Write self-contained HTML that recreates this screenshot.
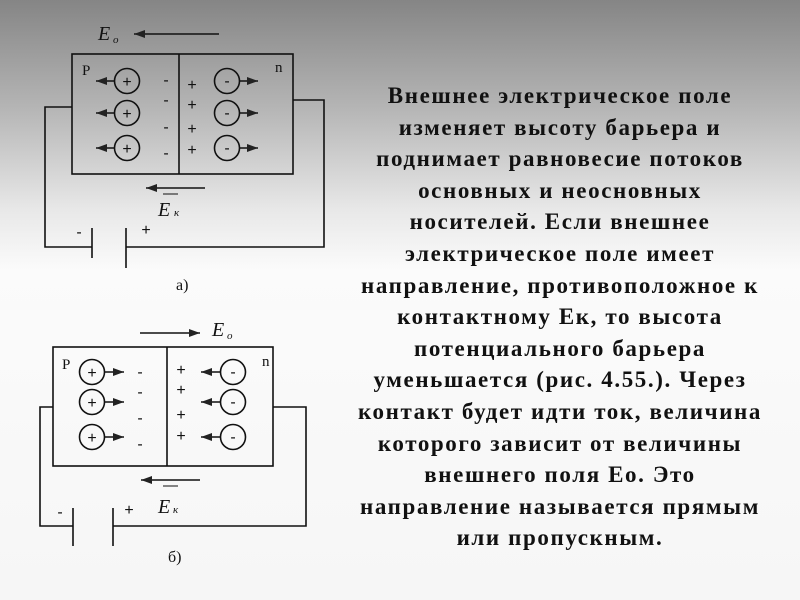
<!DOCTYPE html>
<html><head><meta charset="utf-8"><style>
body{margin:0;width:800px;height:600px;overflow:hidden;background:linear-gradient(to bottom,#858585 0%,#b5b5b5 18%,#e8e8e8 35%,#fbfbfb 45%,#f6f6f6 100%);position:relative;font-family:"Liberation Serif",serif}
#t{position:absolute;left:330px;top:80px;width:460px;text-align:center;font-weight:bold;font-size:23px;letter-spacing:1.6px;line-height:31.6px;color:#111;white-space:nowrap}
svg{position:absolute;left:0;top:0}
</style></head><body>
<svg width="800" height="600" viewBox="0 0 800 600">
<defs>
<marker id="ar" markerWidth="12" markerHeight="8" refX="12" refY="4" orient="auto" markerUnits="userSpaceOnUse"><path d="M12,4 L1,0 L1,8 Z" fill="#222"/></marker>
</defs>
<g stroke="#111" stroke-width="1.6" fill="none">
<rect x="72" y="54" width="221" height="120"/>
<line x1="179" y1="54" x2="179" y2="174"/>
<polyline points="72,107 45,107 45,247 92,247"/>
<polyline points="126,247 324,247 324,100 293,100"/>
<line x1="92" y1="228" x2="92" y2="258"/>
<line x1="126" y1="228" x2="126" y2="268"/>
<line x1="219" y1="34" x2="134" y2="34" marker-end="url(#ar)"/>
<line x1="205" y1="188" x2="146" y2="188" marker-end="url(#ar)"/>
<circle cx="127" cy="81" r="12.5"/><circle cx="127" cy="113" r="12.5"/><circle cx="127" cy="148" r="12.5"/>
<circle cx="227" cy="81" r="12.5"/><circle cx="227" cy="113" r="12.5"/><circle cx="227" cy="148" r="12.5"/>
<line x1="114" y1="81" x2="96" y2="81" marker-end="url(#ar)"/>
<line x1="114" y1="113" x2="96" y2="113" marker-end="url(#ar)"/>
<line x1="114" y1="148" x2="96" y2="148" marker-end="url(#ar)"/>
<line x1="240" y1="81" x2="258" y2="81" marker-end="url(#ar)"/>
<line x1="240" y1="113" x2="258" y2="113" marker-end="url(#ar)"/>
<line x1="240" y1="148" x2="258" y2="148" marker-end="url(#ar)"/>
<rect x="53" y="347" width="220" height="119"/>
<line x1="167" y1="347" x2="167" y2="466"/>
<polyline points="53,407 40,407 40,526 73,526"/>
<polyline points="113,526 306,526 306,407 273,407"/>
<line x1="73" y1="508" x2="73" y2="546"/>
<line x1="113" y1="508" x2="113" y2="546"/>
<line x1="140" y1="333" x2="200" y2="333" marker-end="url(#ar)"/>
<line x1="200" y1="480" x2="141" y2="480" marker-end="url(#ar)"/>
<circle cx="92" cy="372" r="12.5"/><circle cx="92" cy="402" r="12.5"/><circle cx="92" cy="437" r="12.5"/>
<circle cx="233" cy="372" r="12.5"/><circle cx="233" cy="402" r="12.5"/><circle cx="233" cy="437" r="12.5"/>
<line x1="105" y1="372" x2="124" y2="372" marker-end="url(#ar)"/>
<line x1="105" y1="402" x2="124" y2="402" marker-end="url(#ar)"/>
<line x1="105" y1="437" x2="124" y2="437" marker-end="url(#ar)"/>
<line x1="220" y1="372" x2="201" y2="372" marker-end="url(#ar)"/>
<line x1="220" y1="402" x2="201" y2="402" marker-end="url(#ar)"/>
<line x1="220" y1="437" x2="201" y2="437" marker-end="url(#ar)"/>
</g>
<g font-family="Liberation Sans,sans-serif" font-size="16" fill="#111" text-anchor="middle">
<text x="127" y="87">+</text><text x="127" y="119">+</text><text x="127" y="154">+</text>
<text x="227" y="86">-</text><text x="227" y="118">-</text><text x="227" y="153">-</text>
<text x="166" y="85">-</text><text x="166" y="105">-</text><text x="166" y="132">-</text><text x="166" y="158">-</text>
<text x="192" y="90">+</text><text x="192" y="110">+</text><text x="192" y="134">+</text><text x="192" y="155">+</text>
<text x="79" y="237">-</text><text x="146" y="235">+</text>
<text x="92" y="378">+</text><text x="92" y="408">+</text><text x="92" y="443">+</text>
<text x="233" y="377">-</text><text x="233" y="407">-</text><text x="233" y="442">-</text>
<text x="140" y="377">-</text><text x="140" y="397">-</text><text x="140" y="423">-</text><text x="140" y="449">-</text>
<text x="181" y="375">+</text><text x="181" y="395">+</text><text x="181" y="420">+</text><text x="181" y="441">+</text>
<text x="60" y="517">-</text><text x="129" y="515">+</text>
</g>
<g font-family="Liberation Serif,serif" fill="#111">
<text x="82" y="75" font-size="15">P</text><text x="275" y="72" font-size="15">n</text>
<text x="62" y="369" font-size="15">P</text><text x="262" y="366" font-size="15">n</text>
<text x="176" y="290" font-size="16">а)</text><text x="168" y="562" font-size="16">б)</text>
<g font-style="italic" font-size="20"><text x="98" y="40">E</text><text x="158" y="216">E</text><text x="212" y="336">E</text><text x="158" y="513">E</text></g>
<g font-style="italic" font-size="11"><text x="113" y="43">o</text><text x="174" y="216">к</text><text x="227" y="339">o</text><text x="173" y="513">к</text></g>
</g>
<g stroke="#111" stroke-width="1"><line x1="163" y1="194" x2="178" y2="194"/><line x1="163" y1="486" x2="178" y2="486"/></g>
</svg>
<div id="t">Внешнее электрическое поле<br>изменяет высоту барьера и<br>поднимает равновесие потоков<br>основных и неосновных<br>носителей. Если внешнее<br>электрическое поле имеет<br>направление, противоположное к<br>контактному Ек, то высота<br>потенциального барьера<br>уменьшается (рис. 4.55.). Через<br>контакт будет идти ток, величина<br>которого зависит от величины<br>внешнего поля Ео. Это<br>направление называется прямым<br>или пропускным.</div>
</body></html>
